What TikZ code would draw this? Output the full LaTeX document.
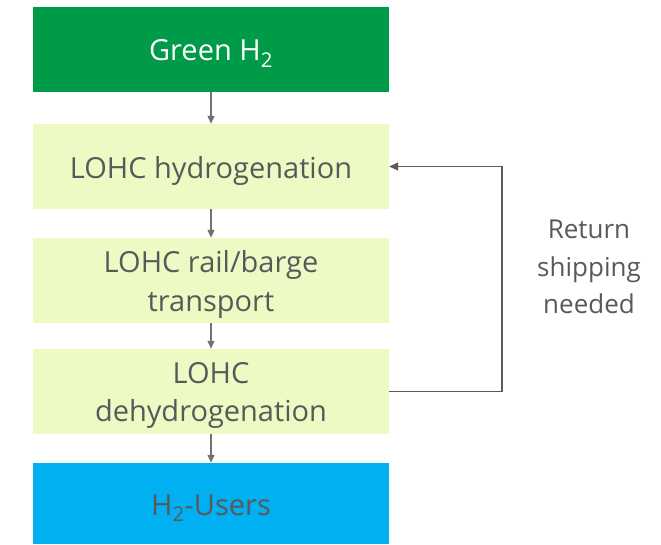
\documentclass[tikz,border=0pt]{standalone}
\usepackage{fontspec}
\setmainfont{Open Sans}
\usetikzlibrary{arrows.meta,positioning,calc}
\definecolor{hgreen}{RGB}{0,155,72}
\definecolor{hlight}{RGB}{236,251,196}
\definecolor{hblue}{RGB}{0,176,240}
\definecolor{harrow}{RGB}{118,113,113}
\definecolor{htext}{RGB}{89,89,89}
\tikzset{
  box/.style={minimum width=356pt, minimum height=85pt, inner sep=0pt},
  boxtext/.style={align=center, inner sep=0pt, yshift=-4pt,
    font=\fontsize{29}{38.5}\selectfont, text=htext},
  flow/.style={draw=harrow, line width=1.3pt, -{Triangle[width=7pt,length=8pt]}},
  loopline/.style={draw=harrow!80!black, line width=1.6pt, -{Triangle[width=8pt,length=9pt]}},
}
\begin{document}
\begin{tikzpicture}[x=1pt,y=-1pt]
\useasboundingbox (0,0) rectangle (661,544);
\node[box, fill=hgreen] (g) at (211,49.5) {};
\node[box, fill=hlight] (hy) at (211,166.5) {};
\node[box, fill=hlight] (tr) at (211,280.5) {};
\node[box, fill=hlight] (de) at (211,391.5) {};
\node[box, fill=hblue, minimum height=81pt] (u) at (211,503.5) {};
\node[boxtext, text=white] (gt) at (g.center) {Green H\textsubscript{2}};
\node[boxtext] (hyt) at (hy.center) {LOHC hydrogenation};
\node[boxtext] (trt) at (tr.center) {LOHC rail/barge\\transport};
\node[boxtext] (det) at (de.center) {LOHC\\dehydrogenation};
\node[boxtext, yshift=-1pt] (ut) at (u.center) {H\textsubscript{2}-Users};
\node[align=center, text=htext, font=\fontsize{26}{37.5}\selectfont] (rt) at (589,267) {Return\\shipping\\needed};
\coordinate (c1) at (502,391.5);
\draw[flow] (g) -- (hy);
\draw[flow] (hy) -- (tr);
\draw[flow] (tr) -- (de);
\draw[flow] (de) -- (u);
\draw[loopline] (de.east) -- (c1) |- (hy.east);
\end{tikzpicture}
\end{document}
